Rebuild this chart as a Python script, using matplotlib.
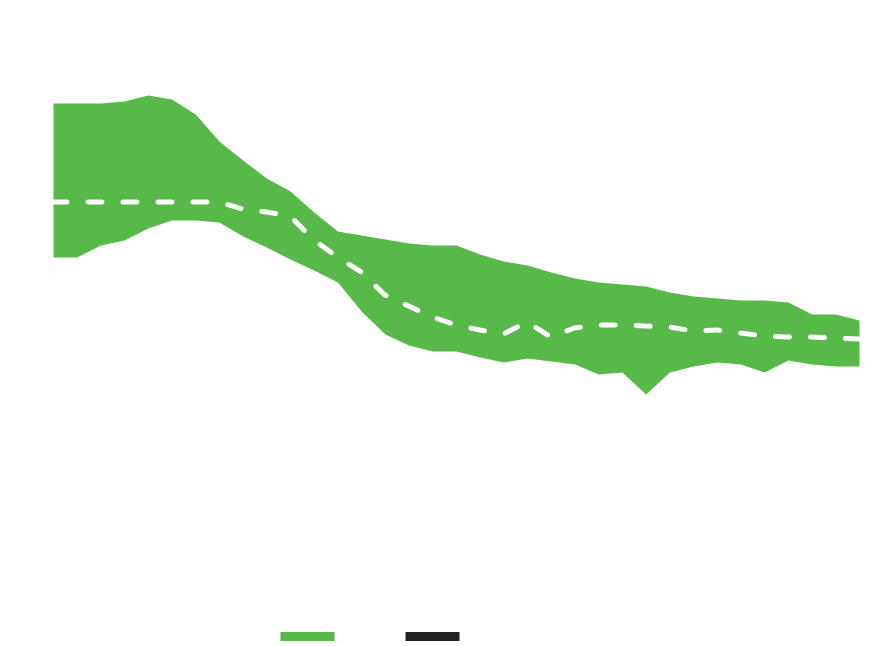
import matplotlib.pyplot as plt
import numpy as np
from matplotlib.lines import Line2D

# -------------------------------------------------------------------------
# Data (arbitrary units)
# -------------------------------------------------------------------------
upper = [54.3, 54.3, 54.3, 54.5, 55.1, 54.7, 53.2, 50.5, 48.6, 46.8,
         45.5, 43.4, 41.5, 41.1, 40.7, 40.3, 40.1, 40.1, 39.2, 38.5,
         38.1, 37.4, 36.8, 36.4, 36.2, 36.0, 35.4, 35.0, 34.8, 34.6,
         34.6, 34.4, 33.2, 33.2, 32.6]
lower = [38.9, 38.9, 40.1, 40.6, 41.8, 42.6, 42.6, 42.4, 41.0, 39.9,
         38.7, 37.6, 36.4, 33.5, 31.2, 30.1, 29.5, 29.5, 28.9, 28.4,
         28.8, 28.5, 28.2, 27.2, 27.4, 25.2, 27.4, 28.0, 28.4, 28.2,
         27.4, 28.6, 28.2, 28.0, 28.0]
mean = [44.4, 44.4, 44.4, 44.4, 44.4, 44.4, 44.4, 44.4, 43.7, 43.4,
        43.0, 40.6, 38.9, 37.4, 35.1, 34.0, 32.9, 32.1, 31.6, 31.2,
        32.4, 30.9, 31.8, 32.1, 32.1, 32.0, 31.9, 31.5, 31.6, 31.3,
        31.0, 30.9, 30.9, 30.8, 30.7]
legend_labels = ["Range", "Mean"]

x = np.arange(len(mean))

# -------------------------------------------------------------------------
# Plot
# -------------------------------------------------------------------------
green = "#56B948"
fig = plt.figure(figsize=(8.89, 6.46), dpi=100)
ax = fig.add_axes([0, 0, 1, 1])

ax.fill_between(x, lower, upper, color=green, linewidth=0)
ax.plot(x, mean, color="white", linewidth=3.6, dashes=(2.8, 4.2),
        dash_capstyle="round", solid_capstyle="round")

step = 806 / 34
ax.set_xlim(-53 / step, (889 - 53) / step)
ax.set_ylim(0, 64.6)
ax.axis("off")

handles = [
    Line2D([], [], color=green, linewidth=6.5, solid_capstyle="butt"),
    Line2D([], [], color="#222222", linewidth=6.5, solid_capstyle="butt"),
]
leg = fig.legend(handles, legend_labels, loc="center", ncol=2,
                 bbox_to_anchor=(392 / 889, 1 - 637 / 646), frameon=False,
                 fontsize=10, handlelength=3.9, handletextpad=0.5,
                 columnspacing=1.43)
for t in leg.get_texts():
    t.set_color("white")

fig.savefig("out.png", dpi=100)
